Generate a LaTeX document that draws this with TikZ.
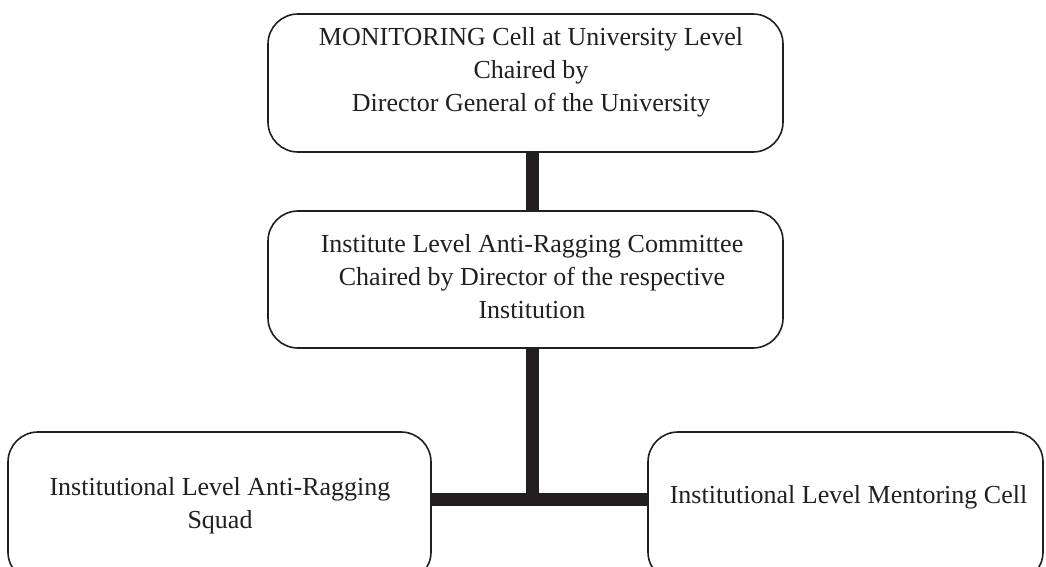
\documentclass[tikz,border=0pt]{standalone}
\usepackage{fontspec}
\setmainfont{Liberation Serif}
\definecolor{ink}{RGB}{35,31,32}
\begin{document}
\begin{tikzpicture}[x=1pt,y=-1pt,
  box/.style={draw=ink,line width=1.6pt,rounded corners=30pt,rectangle,inner sep=0pt},
  lbl/.style={align=center,text=ink,font=\fontsize{26}{33}\selectfont,inner sep=0pt},
  bar/.style={draw=ink,line width=13pt}]
\clip (0,0) rectangle (1046,566);
\fill[white] (0,0) rectangle (1046,566);
% boxes
\node[box,minimum width=515pt,minimum height=138pt] (top) at (525.5,83) {};
\node[box,minimum width=515pt,minimum height=137pt] (mid) at (525.5,279.5) {};
\node[box,minimum width=423pt,minimum height=150pt] (left) at (219.5,507) {};
\node[box,minimum width=395pt,minimum height=150pt] (right) at (845.5,507) {};
% texts
\node[lbl] (ttop) at (531,72) {MONITORING Cell at University Level\\Chaired by\\Director General of the University};
\node[lbl] (tmid) at (532,277) {Institute Level Anti-Ragging Committee\\Chaired by Director of the respective\\Institution};
\node[lbl] (tleft) at (220,506) {Institutional Level Anti-Ragging\\Squad};
\node[lbl] (tright) at (848.5,497) {Institutional Level Mentoring Cell};
% connectors
\coordinate (j) at (532.5,499.5);
\draw[bar] (top.south -| j) -- (mid.north -| j);
\draw[bar] (mid.south -| j) -- (j);
\draw[bar] (left.east |- j) -- (right.west |- j);
\end{tikzpicture}
\end{document}
